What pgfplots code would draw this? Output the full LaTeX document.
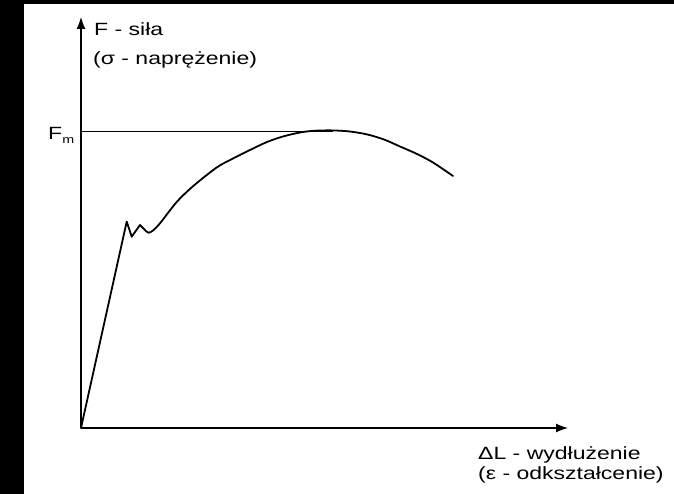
\documentclass[border=0pt]{standalone}
\usepackage{fontspec}
\setmainfont{Liberation Sans}
\usepackage{graphicx}
\usepackage{pgfplots}
\pgfplotsset{compat=1.18}
\usetikzlibrary{arrows.meta}
\newcommand\T[1]{\scalebox{1.3}[1]{#1}}
\tikzset{lab/.style={anchor=base west, inner sep=0, font=\fontsize{17.7bp}{21bp}\selectfont}}
\begin{document}
\begin{tikzpicture}
\begin{axis}[
  x=1bp, y=1bp,
  xmin=0, xmax=487, ymin=0, ymax=411,
  axis lines=left,
  axis line style={line width=1.2bp, -{Latex[length=12bp,width=9bp]}},
  xtick=\empty, ytick=\empty,
  clip=false,
]
% picture frame and scan border
\path (axis cs:-81,-66) rectangle (axis cs:593,428);
\fill[black] (axis cs:-81,-66) rectangle (axis cs:-57,428);
\fill[black] (axis cs:-81,424) rectangle (axis cs:593,428);

% F_m level line
\addplot[black, line width=0.8bp] coordinates {(0,297) (252,297)};

% elastic part and first yield tooth
\addplot[black, line width=1.8bp, line join=round, line cap=round] coordinates {
  (0,0) (45.7,206.3) (50.7,191.3) (59,203)
};
% yield and hardening part
\addplot[black, line width=1.8bp, smooth, tension=0.5, line cap=round] coordinates {
  (59,203) (63,199) (67.3,195.3) (72,197.5) (79,204.7) (95.7,226)
  (112.3,242) (135.7,260.5) (152,269.5) (169,278) (186,286) (202,291.5)
  (219,295.5) (233,297.2) (250,297.6) (268,296.6) (286,293.6) (303,288.5)
  (319,281.5) (336,274) (352,265.5) (372,252)
};

\node[lab] at (axis cs:13,392) {\T{F - siła}};
\node[lab] at (axis cs:12,363) {\T{(σ - naprężenie)}};
\node[lab] at (axis cs:397,-31.3) {\T{ΔL - wydłużenie}};
\node[lab] at (axis cs:397,-52) {\T{(ε - odkształcenie)}};
\node[lab] at (axis cs:-33,288.7) {\T{F\raisebox{-4bp}{\fontsize{11bp}{12bp}\selectfont m}}};
\end{axis}
\end{tikzpicture}
\end{document}
